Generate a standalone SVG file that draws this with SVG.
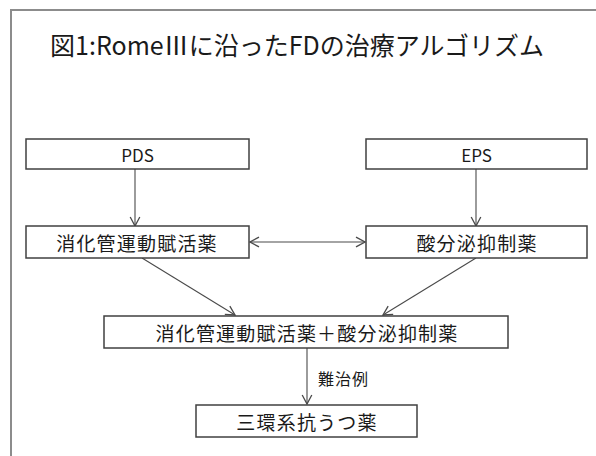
<svg xmlns="http://www.w3.org/2000/svg" width="596" height="456" viewBox="0 0 596 456">
<defs>
<style>
.box{fill:#fff;stroke:#404040;stroke-width:1.5}
.t{font-family:"Noto Sans CJK JP","Noto Sans",sans-serif;fill:#1a1a1a;dominant-baseline:central}
.bt{font-size:19px;letter-spacing:1.2px;text-anchor:middle}
.lt{font-size:17px;text-anchor:middle}
.c{stroke:#4a4a4a;stroke-width:1.1;fill:none;marker-end:url(#ah)}
</style>
<marker id="ah" markerUnits="userSpaceOnUse" markerWidth="12" markerHeight="12" viewBox="0 0 10 10" refX="9" refY="5" orient="auto-start-reverse">
<path d="M1.5,1 L9,5 L1.5,9" fill="none" stroke="#4a4a4a" stroke-width="1.1"/>
</marker>
</defs>
<rect width="596" height="456" fill="#fff"/>
<path d="M11,456 V10 H596" fill="none" stroke="#8c8c8c" stroke-width="2"/>
<text class="t" x="297" y="44" font-size="25" text-anchor="middle">図1:RomeⅢに沿ったFDの治療アルゴリズム</text>
<g id="connectors">
<line class="c" x1="135" y1="169" x2="135" y2="226"/>
<line class="c" x1="476" y1="169" x2="476" y2="226"/>
<line class="c" x1="250" y1="242" x2="365" y2="242" style="marker-start:url(#ah)"/>
<line class="c" x1="142" y1="258" x2="235" y2="315"/>
<line class="c" x1="476" y1="258" x2="383" y2="315"/>
<line class="c" x1="307" y1="348" x2="307" y2="404"/>
<text class="t" x="318" y="378" font-size="16" letter-spacing="1">難治例</text>
</g>
<g id="pds"><rect class="box" x="26" y="139" width="223" height="30"/><text class="t lt" x="137.5" y="154">PDS</text></g>
<g id="eps"><rect class="box" x="366" y="139" width="221" height="30"/><text class="t lt" x="476.5" y="154">EPS</text></g>
<g id="prokinetic"><rect class="box" x="26" y="226" width="223" height="32"/><text class="t bt" x="137" y="242">消化管運動賦活薬</text></g>
<g id="acid"><rect class="box" x="366" y="226" width="221" height="32"/><text class="t bt" x="477" y="242">酸分泌抑制薬</text></g>
<g id="combo"><rect class="box" x="104" y="316" width="404" height="32"/><text class="t bt" x="307" y="332">消化管運動賦活薬＋酸分泌抑制薬</text></g>
<g id="tca"><rect class="box" x="196" y="405" width="221" height="32"/><text class="t bt" x="307" y="421">三環系抗うつ薬</text></g>
</svg>
